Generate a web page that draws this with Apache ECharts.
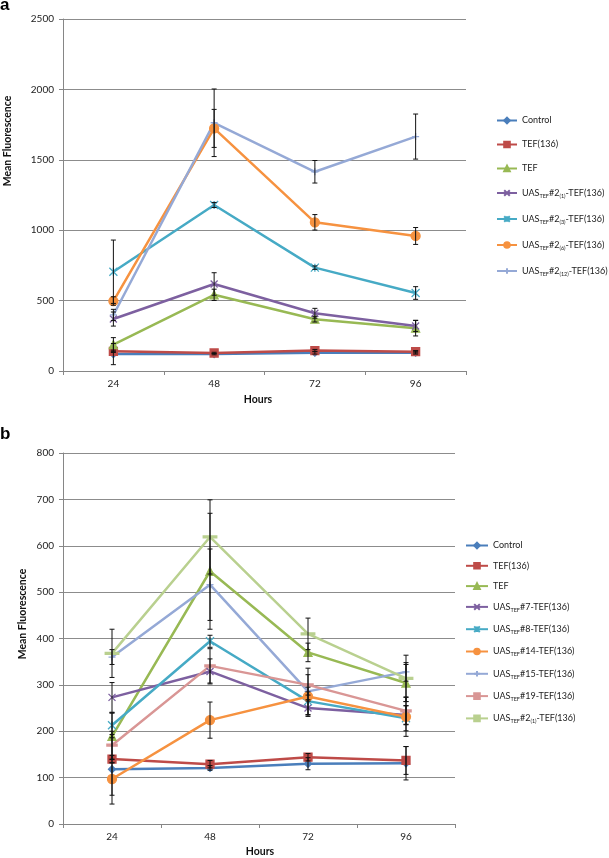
<!DOCTYPE html>
<html>
<head>
<meta charset="utf-8">
<script src="https://cdn.jsdelivr.net/npm/echarts@6/dist/echarts.min.js"></script>
<style>
  html, body { margin: 0; padding: 0; background: #fff; }
  #main { width: 609px; height: 858px; }
</style>
</head>
<body>
<div id="main"></div>
<script>
// categories
var hours = ['24', '48', '72', '96'];

// panel a values and error half-widths
var aControl = [120, 120, 130, 130],     aControlErr = [75, 5, 10, 10];
var aTef136 = [140, 128, 145, 137],      aTef136Err = [8, 5, 8, 8];
var aTef = [187, 541, 368, 304],         aTefErr = [50, 40, 20, 55];
var aUas1 = [369, 618, 410, 320],        aUas1Err = [50, 80, 35, 40];
var aUas3 = [705, 1179, 734, 554],       aUas3Err = [225, 18, 12, 45];
var aUas6 = [497, 1723, 1056, 959],      aUas6Err = [30, 135, 55, 60];
var aUas12 = [398, 1763, 1415, 1665],    aUas12Err = [40, 240, 80, 160];

// panel b values and error half-widths
var bControl = [118, 121, 130, 131],     bControlErr = [75, 5, 13, 36];
var bTef136 = [140, 129, 144, 137],      bTef136Err = [8, 8, 8, 30];
var bTef = [189, 545, 370, 304],         bTefErr = [50, 125, 20, 40];
var bUas7 = [273, 329, 250, 235],        bUas7Err = [32, 27, 18, 20];
var bUas8 = [213, 394, 265, 228],        bUas8Err = [27, 13, 30, 27];
var bUas14 = [97, 224, 275, 231],        bUas14Err = [35, 39, 10, 42];
var bUas15 = [360, 516, 286, 328],       bUas15Err = [16, 77, 50, 20];
var bUas19 = [170, 341, 300, 244],       bUas19Err = [30, 37, 22, 30];
var bUas21 = [368, 619, 410, 314],       bUas21Err = [52, 80, 34, 50];

var FONT = 'Lato';

var C = {
  blue: '#4a7ebb', red: '#be4b48', green: '#98b954', purple: '#7d60a0',
  teal: '#46aac5', orange: '#f69240', lblue: '#95a9d6', pink: '#d99695', lgreen: '#b9d08f'
};

// marker shapes (dash is a thin box so it keeps a real height)
var SYM = {
  x: 'path://M0,0L10,10M10,0L0,10',
  star: 'path://M5,0L5,10M0,0L10,10M10,0L0,10',
  plus: 'path://M5,0L5,10M0,5L10,5',
  dash: 'path://M0,4L10,4L10,6L0,6Z'
};

// legend labels with subscripts
var labels = {
  'a_ctrl': 'Control', 'a_t136': 'TEF(136)', 'a_tef': 'TEF',
  'a_u1': '{n|UAS}{s|TEF}{n|#2}{s|(1)}{n|-TEF(136)}',
  'a_u3': '{n|UAS}{s|TEF}{n|#2}{s|(3)}{n|-TEF(136)}',
  'a_u6': '{n|UAS}{s|TEF}{n|#2}{s|(6)}{n|-TEF(136)}',
  'a_u12': '{n|UAS}{s|TEF}{n|#2}{s|(12)}{n|-TEF(136)}',
  'b_ctrl': 'Control', 'b_t136': 'TEF(136)', 'b_tef': 'TEF',
  'b_u7': '{n|UAS}{s|TEF}{n|#7-TEF(136)}',
  'b_u8': '{n|UAS}{s|TEF}{n|#8-TEF(136)}',
  'b_u14': '{n|UAS}{s|TEF}{n|#14-TEF(136)}',
  'b_u15': '{n|UAS}{s|TEF}{n|#15-TEF(136)}',
  'b_u19': '{n|UAS}{s|TEF}{n|#19-TEF(136)}',
  'b_u21': '{n|UAS}{s|TEF}{n|#2}{s|(1)}{n|-TEF(136)}'
};

function lineSeries(name, idx, data, color, symbol, size) {
  return {
    name: name, type: 'line', xAxisIndex: idx, yAxisIndex: idx,
    data: data, symbol: symbol, symbolSize: size, showSymbol: true,
    lineStyle: { color: color, width: 2.5 },
    itemStyle: { color: color, borderColor: color, borderWidth: 1.3 },
    z: 3, animation: false
  };
}

function errSeries(idx, vals, errs) {
  var d = [];
  for (var i = 0; i < vals.length; i++) {
    d.push([i, vals[i] - errs[i], vals[i] + errs[i]]);
  }
  return {
    type: 'custom', xAxisIndex: idx, yAxisIndex: idx, data: d,
    encode: { x: 0, y: [1, 2] }, z: 4, animation: false, silent: true,
    renderItem: function (params, api) {
      var lo = api.coord([api.value(0), api.value(1)]);
      var hi = api.coord([api.value(0), api.value(2)]);
      var st = { stroke: '#111', lineWidth: 1 };
      return {
        type: 'group', children: [
          { type: 'line', shape: { x1: lo[0], y1: lo[1], x2: hi[0], y2: hi[1] }, style: st },
          { type: 'line', shape: { x1: lo[0] - 2.5, y1: lo[1], x2: lo[0] + 2.5, y2: lo[1] }, style: st },
          { type: 'line', shape: { x1: hi[0] - 2.5, y1: hi[1], x2: hi[0] + 2.5, y2: hi[1] }, style: st }
        ]
      };
    }
  };
}

function makeXAxis(idx) {
  return {
    type: 'category', gridIndex: idx, data: hours, boundaryGap: true,
    axisLine: { lineStyle: { color: '#868686' } },
    axisTick: { show: true, length: 4, lineStyle: { color: '#868686' } },
    axisLabel: { color: '#222', fontFamily: FONT, fontSize: 10, margin: 8 }
  };
}

function makeYAxis(idx, max, interval) {
  return {
    type: 'value', gridIndex: idx, min: 0, max: max, interval: interval,
    axisLine: { show: true, lineStyle: { color: '#868686' } },
    axisTick: { show: true, length: 4, lineStyle: { color: '#868686' } },
    axisLabel: { color: '#222', fontFamily: FONT, fontSize: 10, margin: 9,
      formatter: function (v) { return String(v); } },
    splitLine: { lineStyle: { color: '#8c8c8c', width: 1 } }
  };
}

var richText = {
  n: { fontFamily: FONT, fontSize: 9, color: '#222', lineHeight: 12 },
  s: { fontFamily: FONT, fontSize: 5.5, color: '#222', lineHeight: 12, verticalAlign: 'bottom', padding: [5, 0, 0, 0] }
};

function makeLegend(id, names, left, top, gap, w) {
  return {
    id: id, data: names, orient: 'vertical', left: left, top: top, itemGap: gap,
    itemWidth: w, itemHeight: 7, padding: 0,
    formatter: function (n) { return labels[n].indexOf('{') < 0 ? '{n|' + labels[n] + '}' : labels[n]; },
    textStyle: { fontFamily: FONT, fontSize: 9, color: '#222', rich: richText }
  };
}

var series = [
  lineSeries('a_ctrl', 0, aControl, C.blue, 'diamond', 7),
  lineSeries('a_t136', 0, aTef136, C.red, 'rect', 8),
  lineSeries('a_tef', 0, aTef, C.green, 'triangle', 8),
  lineSeries('a_u1', 0, aUas1, C.purple, SYM.x, 7),
  lineSeries('a_u3', 0, aUas3, C.teal, SYM.star, 8),
  lineSeries('a_u6', 0, aUas6, C.orange, 'circle', 9),
  lineSeries('a_u12', 0, aUas12, C.lblue, SYM.plus, 7),
  errSeries(0, aControl, aControlErr),
  errSeries(0, aTef136, aTef136Err),
  errSeries(0, aTef, aTefErr),
  errSeries(0, aUas1, aUas1Err),
  errSeries(0, aUas3, aUas3Err),
  errSeries(0, aUas6, aUas6Err),
  errSeries(0, aUas12, aUas12Err),

  lineSeries('b_ctrl', 1, bControl, C.blue, 'diamond', 7),
  lineSeries('b_t136', 1, bTef136, C.red, 'rect', 8),
  lineSeries('b_tef', 1, bTef, C.green, 'triangle', 8),
  lineSeries('b_u7', 1, bUas7, C.purple, SYM.x, 7),
  lineSeries('b_u8', 1, bUas8, C.teal, SYM.star, 8),
  lineSeries('b_u14', 1, bUas14, C.orange, 'circle', 9),
  lineSeries('b_u15', 1, bUas15, C.lblue, SYM.plus, 7),
  lineSeries('b_u19', 1, bUas19, C.pink, SYM.dash, [7, 2]),
  lineSeries('b_u21', 1, bUas21, C.lgreen, SYM.dash, [9, 2]),
  errSeries(1, bControl, bControlErr),
  errSeries(1, bTef136, bTef136Err),
  errSeries(1, bTef, bTefErr),
  errSeries(1, bUas7, bUas7Err),
  errSeries(1, bUas8, bUas8Err),
  errSeries(1, bUas14, bUas14Err),
  errSeries(1, bUas15, bUas15Err),
  errSeries(1, bUas19, bUas19Err),
  errSeries(1, bUas21, bUas21Err)
];

var titleStyle = { fontFamily: FONT, fontSize: 10.5, fontWeight: 'bold', fill: '#111' };

var option = {
  backgroundColor: '#fff',
  animation: false,
  grid: [
    { left: 63, top: 19, width: 403, height: 352 },
    { left: 63, top: 453, width: 392, height: 371 }
  ],
  xAxis: [makeXAxis(0), makeXAxis(1)],
  yAxis: [makeYAxis(0, 2500, 500), makeYAxis(1, 800, 100)],
  legend: [
    makeLegend('la', ['a_ctrl', 'a_t136', 'a_tef', 'a_u1', 'a_u3', 'a_u6', 'a_u12'], 496, 116, 15, 20),
    makeLegend('lb', ['b_ctrl', 'b_t136', 'b_tef', 'b_u7', 'b_u8', 'b_u14', 'b_u15', 'b_u19', 'b_u21'], 465, 541, 11.3, 22)
  ],
  graphic: [
    { type: 'text', left: 0, top: -3, style: { text: 'a', fontFamily: 'Liberation Sans', fontSize: 17, fontWeight: 'bold', fill: '#000' } },
    { type: 'text', left: 0, top: 426, style: { text: 'b', fontFamily: 'Liberation Sans', fontSize: 17, fontWeight: 'bold', fill: '#000' } },
    { type: 'text', x: 8, y: 141, rotation: Math.PI / 2, style: Object.assign({ text: 'Mean Fluorescence', align: 'center', verticalAlign: 'middle' }, titleStyle) },
    { type: 'text', x: 23, y: 614, rotation: Math.PI / 2, style: Object.assign({ text: 'Mean Fluorescence', align: 'center', verticalAlign: 'middle' }, titleStyle) },
    { type: 'text', x: 258, y: 400, style: Object.assign({ text: 'Hours', align: 'center', verticalAlign: 'middle' }, titleStyle) },
    { type: 'text', x: 260, y: 852, style: Object.assign({ text: 'Hours', align: 'center', verticalAlign: 'middle' }, titleStyle) }
  ],
  series: series
};

var myChart = echarts.init(document.getElementById('main'));
myChart.setOption(option, true);
</script>
</body>
</html>
